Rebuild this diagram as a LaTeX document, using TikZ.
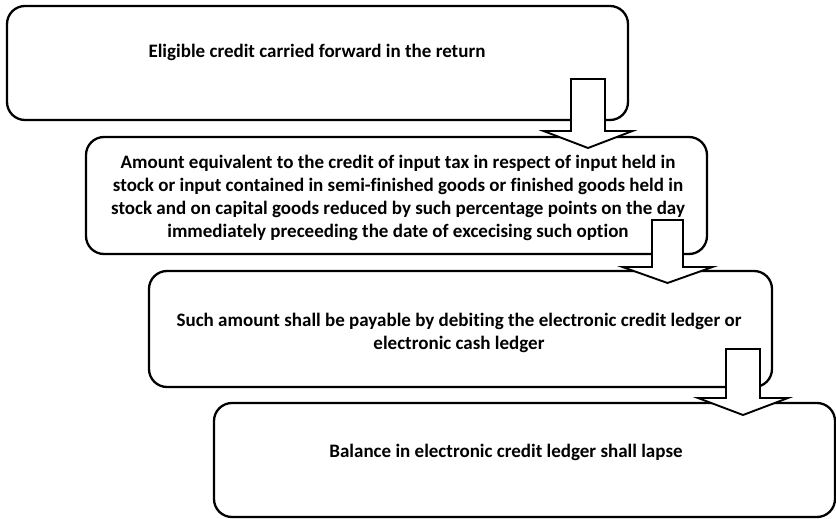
\documentclass[tikz,border=0pt]{standalone}
\usepackage{fontspec}
\setmainfont{Carlito}[Ligatures=NoCommon]
\begin{document}
\begin{tikzpicture}[x=1pt,y=-1pt,
  box/.style={draw=black, line width=2.3pt, rounded corners=18pt, fill=white, inner sep=0pt},
  txt/.style={align=center, inner sep=0pt, font=\bfseries\fontsize{19}{23}\selectfont},
  barrow/.style={draw=black, line width=1.9pt, fill=white, line join=miter}]
\useasboundingbox (0,0) rectangle (836,519);
% boxes
\node[box, minimum width=621pt, minimum height=114pt] (b1) at (317.5,63) {};
\node[box, minimum width=621pt, minimum height=117pt] (b2) at (396.5,195.5) {};
\node[box, minimum width=623pt, minimum height=116pt] (b3) at (460.5,329) {};
\node[box, minimum width=621pt, minimum height=114pt] (b4) at (524.5,460) {};
% texts
\node[txt] (t1) at (317,52) {Eligible credit carried forward in the return};
\node[txt] (t2) at (398,198) {Amount equivalent to the credit of input tax in respect of input held in\\stock or input contained in semi-finished goods or finished goods held in\\stock and on capital goods reduced by such percentage points on the day\\immediately preceeding the date of excecising such option};
\node[txt] (t3) at (459,333) {Such amount shall be payable by debiting the electronic credit ledger or\\electronic cash ledger};
\node[txt] (t4) at (506,452) {Balance in electronic credit ledger shall lapse};
% block arrows
\coordinate (a1) at (588,79);
\coordinate (a2) at (667.5,220);
\coordinate (a3) at (743,349);
\draw[barrow] (a1) ++(-17,0) -- ++(0,52) -- ++(-27.5,0) -- ++(44.5,17) -- ++(44.5,-17) -- ++(-27.5,0) -- ++(0,-52) -- cycle;
\draw[barrow] (a2) ++(-15.5,0) -- ++(0,47) -- ++(-29.5,0) -- ++(45,16) -- ++(45,-16) -- ++(-29.5,0) -- ++(0,-47) -- cycle;
\draw[barrow] (a3) ++(-17,0) -- ++(0,49) -- ++(-28,0) -- ++(45,17) -- ++(45,-17) -- ++(-28,0) -- ++(0,-49) -- cycle;
\end{tikzpicture}
\end{document}
